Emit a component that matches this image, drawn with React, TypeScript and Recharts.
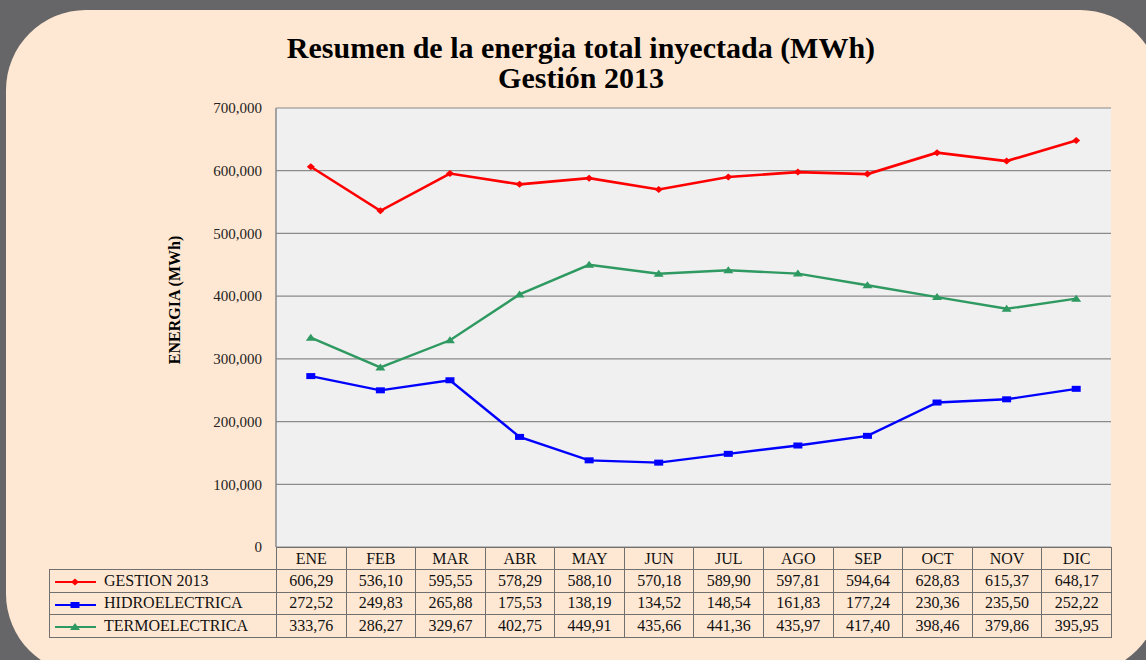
import React from 'react'
import { LineChart, Line, XAxis, YAxis, CartesianGrid } from 'recharts'

const months = ['ENE', 'FEB', 'MAR', 'ABR', 'MAY', 'JUN', 'JUL', 'AGO', 'SEP', 'OCT', 'NOV', 'DIC']

// MWh
const gestion = [606290, 536100, 595550, 578290, 588100, 570180, 589900, 597810, 594640, 628830, 615370, 648170]
const hidro = [272520, 249830, 265880, 175530, 138190, 134520, 148540, 161830, 177240, 230360, 235500, 252220]
const termo = [333760, 286270, 329670, 402750, 449910, 435660, 441360, 435970, 417400, 398460, 379860, 395950]

const yTicks = [0, 100000, 200000, 300000, 400000, 500000, 600000, 700000]

const series = [
  { key: 'gestion', name: 'GESTION 2013', color: '#ff0000', values: gestion, marker: 'diamond' },
  { key: 'hidro', name: 'HIDROELECTRICA', color: '#0000ff', values: hidro, marker: 'square' },
  { key: 'termo', name: 'TERMOELECTRICA', color: '#2e9960', values: termo, marker: 'triangle' },
]

const data = months.map((m, i) => ({
  month: m,
  gestion: gestion[i],
  hidro: hidro[i],
  termo: termo[i],
}))

const FONT = '"Liberation Serif", "Times New Roman", serif'

// plot area box in page pixels
const PLOT_LEFT = 276
const PLOT_RIGHT = 1111
const PLOT_TOP = 108
const PLOT_BOTTOM = 547

function markerShape(kind: string, color: string, cx: number, cy: number, key?: any) {
  if (kind === 'diamond') {
    return <polygon key={key} points={`${cx},${cy - 3.5} ${cx + 4},${cy} ${cx},${cy + 3.5} ${cx - 4},${cy}`} fill={color} />
  }
  if (kind === 'square') {
    return <rect key={key} x={cx - 4.5} y={cy - 3} width={9} height={6} fill={color} />
  }
  return <polygon key={key} points={`${cx},${cy - 4} ${cx + 5},${cy + 3} ${cx - 5},${cy + 3}`} fill={color} />
}

const makeDot = (kind: string, color: string) => (props: any) => {
  const { cx, cy, index } = props
  if (cx == null || cy == null) return <g key={index} />
  return markerShape(kind, color, cx, cy, index)
}

const fmtTick = (v: number) => v === 0 ? '0' : v.toLocaleString('en-US')
const fmtCell = (v: number) => (v / 1000).toFixed(2).replace('.', ',')

function LegendKey({ kind, color }: { kind: string; color: string }) {
  return (
    <svg width={44} height={12} style={{ verticalAlign: 'middle', marginRight: 6 }}>
      <line x1={1} y1={6} x2={42} y2={6} stroke={color} strokeWidth={2} />
      {markerShape(kind, color, 21, 6)}
    </svg>
  )
}

export default function App() {
  const colW = (PLOT_RIGHT - PLOT_LEFT) / months.length
  const border = '1.5px solid #707070'
  const cell: React.CSSProperties = {
    border,
    textAlign: 'center',
    padding: 0,
    fontSize: 16,
    color: '#111',
    whiteSpace: 'nowrap',
  }
  return (
    <div style={{ position: 'fixed', left: 0, top: 0, width: 1146, height: 660, background: '#666668', overflow: 'hidden', fontFamily: FONT }}>
      <div style={{ position: 'absolute', left: 6, top: 10, width: 1154, height: 664, background: '#ffe8d3', borderRadius: 80 }} />

      <div style={{ position: 'absolute', left: 0, top: 33, width: 1162, textAlign: 'center', fontWeight: 'bold', fontSize: 30, lineHeight: '30px', color: '#000' }}>
        Resumen de la energia total inyectada (MWh)
        <br />
        Gestión 2013
      </div>

      <div style={{ position: 'absolute', left: 175, top: 300, transform: 'translate(-50%, -50%) rotate(-90deg)', fontWeight: 'bold', fontSize: 16, whiteSpace: 'nowrap', color: '#000' }}>
        ENERGIA (MWh)
      </div>

      <div style={{ position: 'absolute', left: 0, top: 0 }}>
        <LineChart
          width={1146}
          height={660}
          data={data}
          margin={{ top: PLOT_TOP, right: 1146 - PLOT_RIGHT, bottom: 660 - PLOT_BOTTOM, left: PLOT_LEFT - 100 }}
        >
          <CartesianGrid vertical={false} fill="#f0f0f0" stroke="#8a8a8a" strokeWidth={1.2} />
          <XAxis dataKey="month" hide padding={{ left: colW / 2, right: colW / 2 }} />
          <YAxis
            width={100}
            domain={[0, 700000]}
            ticks={yTicks}
            tickFormatter={fmtTick}
            tickLine={false}
            tickMargin={8}
            axisLine={{ stroke: '#8a8a8a', strokeWidth: 1.5 }}
            tick={{ fill: '#222', fontSize: 15, fontFamily: FONT }}
          />
          {series.map((s) => (
            <Line
              key={s.key}
              type="linear"
              dataKey={s.key}
              name={s.name}
              stroke={s.color}
              strokeWidth={s.key === 'gestion' ? 2.6 : 2.4}
              dot={makeDot(s.marker, s.color)}
              activeDot={false}
              isAnimationActive={false}
            />
          ))}
        </LineChart>
      </div>

      <table
        style={{
          position: 'absolute',
          left: 49,
          top: PLOT_BOTTOM,
          width: PLOT_RIGHT - 49,
          borderCollapse: 'collapse',
          tableLayout: 'fixed',
          fontFamily: FONT,
        }}
      >
        <colgroup>
          <col style={{ width: PLOT_LEFT - 49 }} />
          {months.map((m) => <col key={m} style={{ width: colW }} />)}
        </colgroup>
        <tbody>
          <tr style={{ height: 22 }}>
            <td style={{ border: 'none', padding: 0 }} />
            {months.map((m) => <td key={m} style={cell}>{m}</td>)}
          </tr>
          {series.map((s) => (
            <tr key={s.key} style={{ height: 22.5 }}>
              <td style={{ ...cell, textAlign: 'left', paddingLeft: 4 }}>
                <LegendKey kind={s.marker} color={s.color} />
                {s.name}
              </td>
              {s.values.map((v, i) => <td key={i} style={cell}>{fmtCell(v)}</td>)}
            </tr>
          ))}
        </tbody>
      </table>
    </div>
  )
}
